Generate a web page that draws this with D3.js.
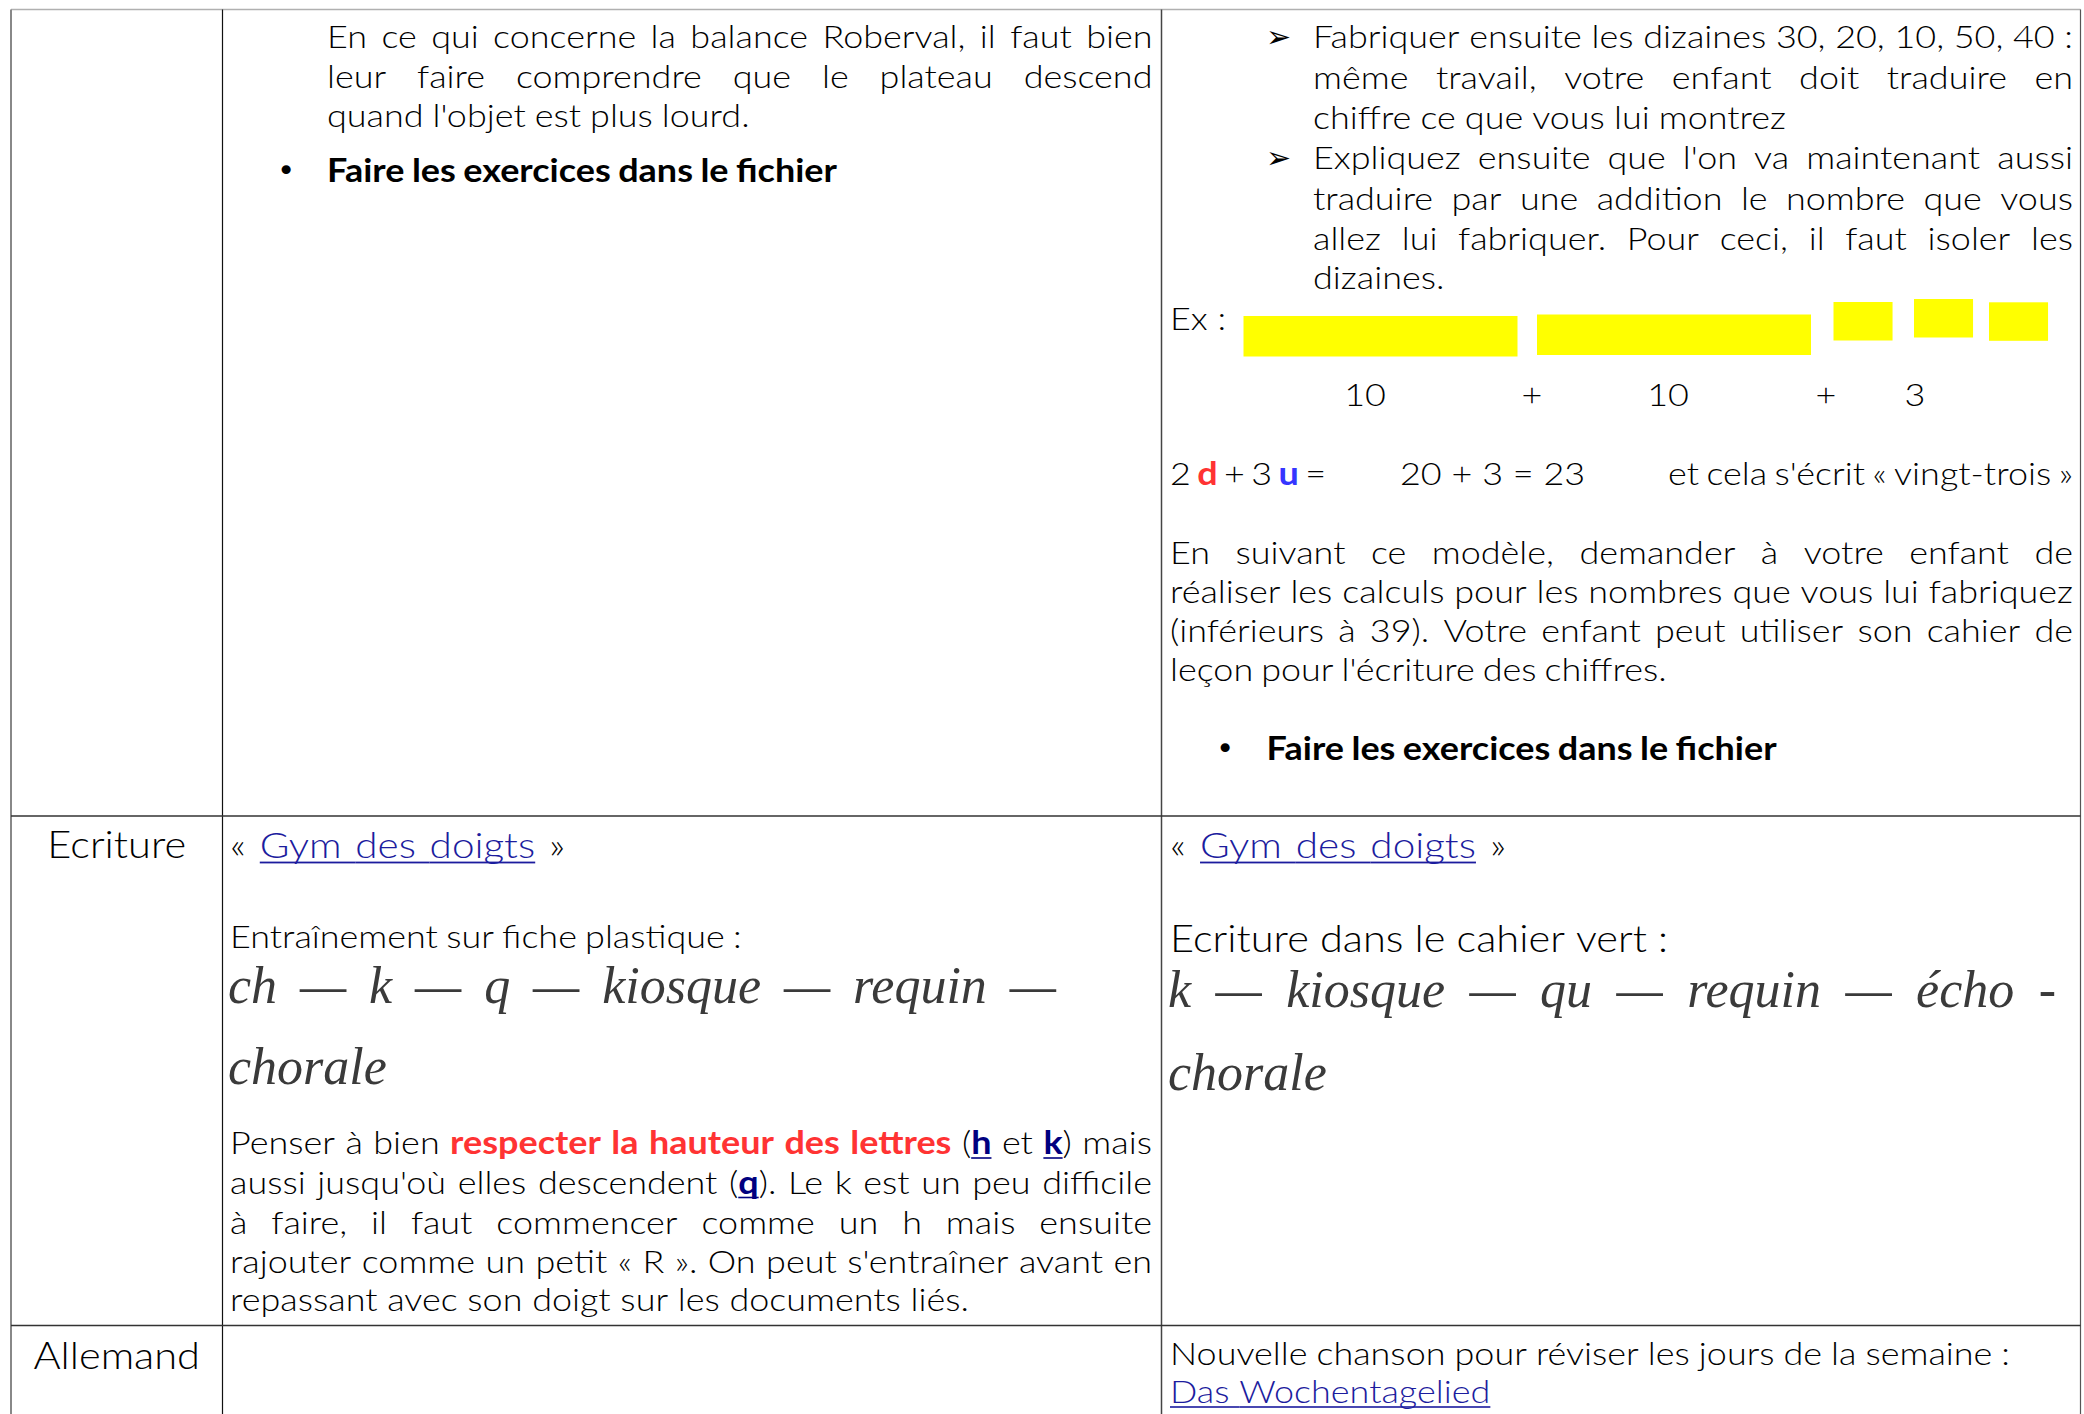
<!DOCTYPE html>
<html><head><meta charset="utf-8">
<script src="https://cdn.jsdelivr.net/npm/d3@7"></script>
<style>html,body{margin:0;padding:0;background:#fff;overflow:hidden}</style>
</head><body>
<script>
// ================= DATA (text content only) =================
const rowLabels = ["Ecriture", "Allemand"];
const mathsLeft = [
  "En ce qui concerne la balance Roberval, il faut bien",
  "leur faire comprendre que le plateau descend",
  "quand l'objet est plus lourd."
];
const bulletTask = "{b:Faire les exercices dans le fichier}";
const mathsRight = [
  "Fabriquer ensuite les dizaines 30, 20, 10, 50, 40 :",
  "même travail, votre enfant doit traduire en",
  "chiffre ce que vous lui montrez",
  "Expliquez ensuite que l'on va maintenant aussi",
  "traduire par une addition le nombre que vous",
  "allez lui fabriquer. Pour ceci, il faut isoler les",
  "dizaines."
];
const exLabel = "Ex :";
const blockValues = [10, 10, 1, 1, 1];
const sumLabels = ["10", "+", "10", "+", "3"];
const equationParts = ["2 {d:d} + 3 {u:u} =", "20 + 3 = 23", "et cela s'écrit « vingt-trois »"];
const modelPara = [
  "En suivant ce modèle, demander à votre enfant de",
  "réaliser les calculs pour les nombres que vous lui fabriquez",
  "(inférieurs à 39). Votre enfant peut utiliser son cahier de",
  "leçon pour l'écriture des chiffres."
];
const gymText = "« {L:Gym des doigts} »";
const ecritureLeftTitle = "Entraînement sur fiche plastique :";
const cursiveLeft = ["ch — k — q — kiosque — requin —", "chorale"];
const ecritureNote = [
  "Penser à bien {r:respecter la hauteur des lettres} ({k:h} et {k:k}) mais",
  "aussi jusqu'où elles descendent ({k:q}). Le k est un peu difficile",
  "à faire, il faut commencer comme un h mais ensuite",
  "rajouter comme un petit « R ». On peut s'entraîner avant en",
  "repassant avec son doigt sur les documents liés."
];
const ecritureRightTitle = "Ecriture dans le cahier vert :";
const cursiveRight = ["k — kiosque — qu — requin — écho -", "chorale"];
const allemandText = ["Nouvelle chanson pour réviser les jours de la semaine :", "{L:Das Wochentagelied}"];

// ================= LAYOUT =================
const W = 2084, H = 1414;
const BODY = "Lato, 'Open Sans', sans-serif";
const CURS = "'Liberation Serif', 'DejaVu Serif', serif";
const SIZE = 32, BIG = 37, CSIZE = 52;
const colX = [11, 222.5, 1161.5, 2080.5];
const rowY = [9.5, 816, 1325.5, H];

const styleMap = {
  n: {w: 300, c: "#000"},
  b: {w: 700, c: "#000"},
  r: {w: 700, c: "#ff3333"},
  L: {w: 300, c: "#1c1c9e", u: true},
  k: {w: 700, c: "#00007f", u: true},
  d: {w: 700, c: "#ff3333"},
  u: {w: 700, c: "#3535ff"}
};

const svg = d3.select("body").append("svg").attr("width", W).attr("height", H);
svg.append("rect").attr("width", W).attr("height", H).attr("fill", "#fff");
const meas = svg.append("g").attr("opacity", 0);
const textG = svg.append("g");
const gridG = svg.append("g");

function measure(t, size, weight, family, italic) {
  const el = meas.append("text").attr("font-family", family).attr("font-size", size)
    .attr("font-weight", weight).attr("font-style", italic ? "italic" : "normal")
    .attr("xml:space", "preserve").text(t);
  const w = el.node().getComputedTextLength();
  el.remove();
  return w;
}

function parse(str) {
  const pieces = [];
  const re = /\{(\w):([^}]*)\}|([^{]+)/g;
  let m;
  while ((m = re.exec(str))) {
    if (m[1]) pieces.push({t: m[2], s: m[1]}); else pieces.push({t: m[3], s: "n"});
  }
  const words = [];
  let cur = [];
  pieces.forEach(p => {
    const parts = p.t.split(" ");
    parts.forEach((part, i) => {
      if (i > 0) { if (cur.length) words.push(cur); cur = []; }
      if (part) cur.push({t: part, s: p.s});
    });
  });
  if (cur.length) words.push(cur);
  return words;
}

// horizontal stretch factor so that the body font matches the reference width
const F = 739 / measure("repassant avec son doigt sur les documents liés.", SIZE, 300, BODY, false);

function drawLine(str, o) {
  const size = o.size || SIZE, fam = o.family || BODY, it = !!o.italic;
  const f = o.F === undefined ? F : o.F;
  const words = parse(str);
  words.forEach(wd => {
    wd.forEach(p => { p.w = measure(p.t, size, o.weight || styleMap[p.s].w, fam, it) * f; });
    wd.w = d3.sum(wd, p => p.w);
  });
  const tot = d3.sum(words, w => w.w);
  const sp = (measure("a a", size, 300, fam, it) - measure("aa", size, 300, fam, it)) * f;
  let gap = sp;
  if (o.w && words.length > 1) {
    const g = (o.w - tot) / (words.length - 1);
    if (o.just || (g > sp * 0.5 && g < sp * 2.5)) gap = g;
  }
  let x = o.x;
  if (o.anchor === "middle") x = o.x - (tot + gap * (words.length - 1)) / 2;
  words.forEach((wd, i) => {
    wd.forEach((p, j) => {
      const st = styleMap[p.s];
      textG.append("text")
        .attr("transform", `translate(${x},${o.y}) scale(${f},1)`)
        .attr("font-family", fam).attr("font-size", size).attr("font-weight", o.weight || st.w)
        .attr("font-style", it ? "italic" : "normal")
        .attr("fill", o.color || st.c).text(p.t);
      if (st.u) {
        let x2 = x + p.w;
        const nx = words[i + 1];
        if (j === wd.length - 1 && nx && styleMap[nx[0].s].u) x2 += gap;
        textG.append("rect").attr("x", x).attr("y", o.y + size * 0.1)
          .attr("width", x2 - x).attr("height", Math.max(1.5, size * 0.05)).attr("fill", st.c);
      }
      x += p.w;
    });
    x += gap;
  });
}

function bullet(x, y) {
  textG.append("text").attr("x", x).attr("y", y).attr("font-family", "'DejaVu Sans', sans-serif")
    .attr("font-size", 31).attr("fill", "#000").text("•");
}
function arrow(x, y) {
  textG.append("text").attr("x", x).attr("y", y).attr("font-family", "'DejaVu Sans', sans-serif")
    .attr("font-size", 30).attr("fill", "#000").text("➢");
}

// ---------- Row 1, column 2 ----------
const mlY = [48, 88, 126.5], mlW = [825.5, 825.5, 422.6], mlJ = [1, 1, 0];
mathsLeft.forEach((t, i) => drawLine(t, {x: 327, y: mlY[i], w: mlW[i], just: mlJ[i]}));
bullet(277, 181);
drawLine(bulletTask, {x: 327, y: 182, w: 510});

// ---------- Row 1, column 3 ----------
const mrY = [48, 89, 129, 169, 210, 250, 288.5];
const mrW = [760, 760, 473, 760, 760, 760, 130];
const mrJ = [1, 1, 0, 1, 1, 1, 0];
mathsRight.forEach((t, i) => drawLine(t, {x: 1313, y: mrY[i], w: mrW[i], just: mrJ[i]}));
arrow(1266, 47); arrow(1266, 168);
drawLine(exLabel, {x: 1170, y: 330, w: 47});

// yellow number blocks
const blockX = [1243.5, 1537, 1833.5, 1914, 1989];
const blockY = [316, 314.5, 302, 299, 302.3];
const unit = d3.scaleLinear().domain([0, 1]).range([0, 274]);   // width of a ten-bar
blockValues.forEach((v, i) => {
  const w = v >= 10 ? unit(1) : unit(1) * 0.2155;
  const h = v >= 10 ? 40.5 : 38.5;
  textG.append("rect").attr("x", blockX[i]).attr("y", blockY[i])
    .attr("width", w).attr("height", h).attr("fill", "#ffff00");
});
const sumX = [1365, 1532, 1668, 1826, 1915];
sumLabels.forEach((t, i) => drawLine(t, {x: sumX[i], y: 406, anchor: "middle"}));

// equation
drawLine(equationParts[0], {x: 1170, y: 485, w: 156});
drawLine(equationParts[1], {x: 1400, y: 485, w: 161.6});
drawLine(equationParts[2], {x: 1668, y: 485, w: 405});

const mpY = [563.5, 602.5, 642, 680.5], mpW = [903, 903, 903, 496.7], mpJ = [1, 1, 1, 0];
modelPara.forEach((t, i) => drawLine(t, {x: 1170, y: mpY[i], w: mpW[i], just: mpJ[i]}));
bullet(1216, 759);
drawLine(bulletTask, {x: 1266.6, y: 760, w: 510});

// ---------- Row labels ----------
const labelY = [858, 1369];
rowLabels.forEach((t, i) => drawLine(t, {x: (colX[0] + colX[1]) / 2, y: labelY[i], size: BIG, anchor: "middle"}));

// ---------- Row 2, column 2 ----------
drawLine(gymText, {x: 230, y: 858, size: 36, w: 335});
drawLine(ecritureLeftTitle, {x: 230, y: 948, w: 511.6});
const cOpt = {family: CURS, italic: true, size: CSIZE, F: 1, color: "#3a3a3a", weight: 400};
drawLine(cursiveLeft[0], Object.assign({x: 228, y: 1003, w: 828, just: 1}, cOpt));
drawLine(cursiveLeft[1], Object.assign({x: 228, y: 1084}, cOpt));
const enY = [1154, 1193.5, 1233.5, 1272.5, 1310.5], enW = [922, 922, 922, 922, 739], enJ = [1, 1, 1, 1, 0];
ecritureNote.forEach((t, i) => drawLine(t, {x: 230, y: enY[i], w: enW[i], just: enJ[i]}));

// ---------- Row 2, column 3 ----------
drawLine(gymText, {x: 1170, y: 858, size: 36, w: 336});
drawLine(ecritureRightTitle, {x: 1170, y: 952, size: BIG, w: 498});
drawLine(cursiveRight[0], Object.assign({x: 1168, y: 1007, w: 888, just: 1}, cOpt));
drawLine(cursiveRight[1], Object.assign({x: 1168, y: 1090}, cOpt));

// ---------- Row 3 ----------
drawLine(allemandText[0], {x: 1170, y: 1365, w: 840});
drawLine(allemandText[1], {x: 1170, y: 1403});

// ================= GRID =================
gridG.append("line").attr("x1", colX[0]).attr("x2", colX[3]).attr("y1", rowY[0]).attr("y2", rowY[0])
  .attr("stroke", "#b0b0b0").attr("stroke-width", 1.5);
gridG.append("line").attr("x1", colX[0]).attr("x2", colX[0]).attr("y1", rowY[0]).attr("y2", H)
  .attr("stroke", "#888").attr("stroke-width", 2);
gridG.append("line").attr("x1", colX[1]).attr("x2", colX[1]).attr("y1", rowY[0]).attr("y2", H)
  .attr("stroke", "#111").attr("stroke-width", 1.2);
gridG.append("line").attr("x1", colX[2]).attr("x2", colX[2]).attr("y1", rowY[0]).attr("y2", H)
  .attr("stroke", "#444").attr("stroke-width", 1.5);
gridG.append("line").attr("x1", colX[3]).attr("x2", colX[3]).attr("y1", rowY[0]).attr("y2", H)
  .attr("stroke", "#555").attr("stroke-width", 1.2);
[rowY[1], rowY[2]].forEach(y => gridG.append("line").attr("x1", colX[0]).attr("x2", colX[3])
  .attr("y1", y).attr("y2", y).attr("stroke", "#333").attr("stroke-width", 1.5));
</script>
</body></html>
